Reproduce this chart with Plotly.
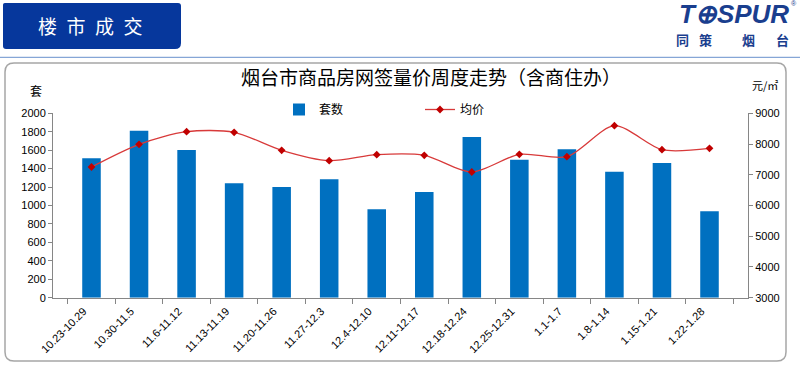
import plotly.graph_objects as go

weeks = ["10.23-10.29", "10.30-11.5", "11.6-11.12", "11.13-11.19", "11.20-11.26",
         "11.27-12.3", "12.4-12.10", "12.11-12.17", "12.18-12.24", "12.25-12.31",
         "1.1-1.7", "1.8-1.14", "1.15-1.21", "1.22-1.28"]
units = [1512, 1810, 1601, 1240, 1200, 1284, 958, 1146, 1743, 1497, 1609, 1367, 1461, 937]
avg_price = [7253, 7992, 8402, 8382, 7796, 7458, 7654, 7634, 7090, 7666, 7588, 8597, 7816, 7861]

W, H = 800, 369


def px(x):
    return x / W


def py(y):
    return 1 - y / H


AX_FONT = dict(family="Arial, Liberation Sans, sans-serif", size=11, color="#000000")
CJK = "Noto Sans CJK SC, sans-serif"
ARIAL = "Arial, Liberation Sans, sans-serif"

fig = go.Figure()
fig.add_trace(go.Bar(
    x=weeks, y=units, name="套数", marker=dict(color="#0070C0", line=dict(width=0)),
    width=0.39, yaxis="y"))
fig.add_trace(go.Scatter(
    x=weeks, y=avg_price, name="均价", yaxis="y2", mode="lines+markers",
    line=dict(color="#D83A3A", width=1.3, shape="spline", smoothing=0.8),
    marker=dict(symbol="diamond", size=6, color="#C00000")))


def rounded(x0, y0, x1, y1, r, corners=(1, 1, 1, 1)):
    rx, ry = r / W, r / H
    X0, X1 = px(x0), px(x1)
    Y0, Y1 = py(y0), py(y1)
    tl, tr, br, bl = corners
    p = f"M {X0 + rx*tl},{Y0} L {X1 - rx*tr},{Y0} "
    p += f"Q {X1},{Y0} {X1},{Y0 - ry*tr} " if tr else ""
    p += f"L {X1},{Y1 + ry*br} "
    p += f"Q {X1},{Y1} {X1 - rx*br},{Y1} " if br else ""
    p += f"L {X0 + rx*bl},{Y1} "
    p += f"Q {X0},{Y1} {X0},{Y1 + ry*bl} " if bl else ""
    p += f"L {X0},{Y0 - ry*tl} "
    p += f"Q {X0},{Y0} {X0 + rx*tl},{Y0} " if tl else ""
    return p + "Z"


shapes = [
    dict(type="path", xref="paper", yref="paper",
         path=rounded(3, 3, 181, 49, 6, (0.3, 0.5, 1, 0.5)),
         fillcolor="#06379C", line=dict(width=0), layer="below"),
    dict(type="line", xref="paper", yref="paper", x0=0, x1=1, y0=py(57.3), y1=py(57.3),
         line=dict(color="#86A6D6", width=1.2)),
    dict(type="path", xref="paper", yref="paper",
         path=rounded(5, 63, 786, 361, 9),
         fillcolor="rgba(0,0,0,0)", line=dict(color="#A6A6A6", width=1.5), layer="below"),
]


def note(text, x, y, size, family=CJK, color="#000000", xanchor="center"):
    return dict(text=text, x=px(x), y=py(y), xref="paper", yref="paper", showarrow=False,
                xanchor=xanchor, yanchor="middle", borderpad=0,
                font=dict(family=family, size=size, color=color))


SP = "\u2002"
LOGO = "#1A3E8E"
annotations = [
    note(SP.join("楼市成交"), 90, 26, 19, color="white"),
    note("<b><i>T⊕SPUR</i></b>", 790, 14, 26, family=ARIAL, color=LOGO, xanchor="right"),
    note("®", 794, 4, 7, family=ARIAL, color=LOGO),
    note("<b>同</b>", 682, 39.5, 13, color=LOGO),
    note("<b>策</b>", 705, 39.5, 13, color=LOGO),
    note("<b>烟</b>", 748, 39.5, 13, color=LOGO),
    note("<b>台</b>", 782, 39.5, 13, color=LOGO),
    note("烟台市商品房网签量价周度走势（含商住办）", 431, 76, 19),
    note("套", 36, 90, 12),
    note("元/㎡", 765, 85, 11),
]

fig.update_layout(
    width=W, height=H,
    margin=dict(l=0, r=0, t=0, b=0, autoexpand=False),
    paper_bgcolor="white", plot_bgcolor="rgba(0,0,0,0)",
    showlegend=True,
    legend=dict(orientation="h", x=px(279), y=py(95), xanchor="left", yanchor="top",
                font=dict(family=CJK, size=12, color="#000000"),
                entrywidth=96, entrywidthmode="pixels", bgcolor="rgba(0,0,0,0)",
                traceorder="normal"),
    bargap=0.6,
    xaxis=dict(domain=[px(53), px(748)], type="category", tickangle=-45, automargin=False,
               tickfont=AX_FONT, showline=True, linecolor="#868686", linewidth=1,
               ticks="outside", tickson="boundaries", ticklen=5, tickcolor="#868686",
               ticklabelshift=-8, ticklabelstandoff=2,
               showgrid=False, zeroline=False),
    yaxis=dict(domain=[py(297.7), py(113.3)], range=[0, 2000], dtick=200, automargin=False,
               tickfont=AX_FONT, showline=True, linecolor="#868686", linewidth=1,
               ticks="outside", ticklen=4, tickcolor="#868686", showgrid=False,
               zeroline=False),
    yaxis2=dict(overlaying="y", side="right", range=[3000, 9000], dtick=1000,
                automargin=False,
                tickfont=AX_FONT, showline=True, linecolor="#868686", linewidth=1,
                ticks="outside", ticklen=4, tickcolor="#868686", showgrid=False,
                zeroline=False),
    shapes=shapes,
    annotations=annotations,
)

fig.write_html("out.html", config={"displayModeBar": False},
               post_script="document.body.style.margin='0px';")
